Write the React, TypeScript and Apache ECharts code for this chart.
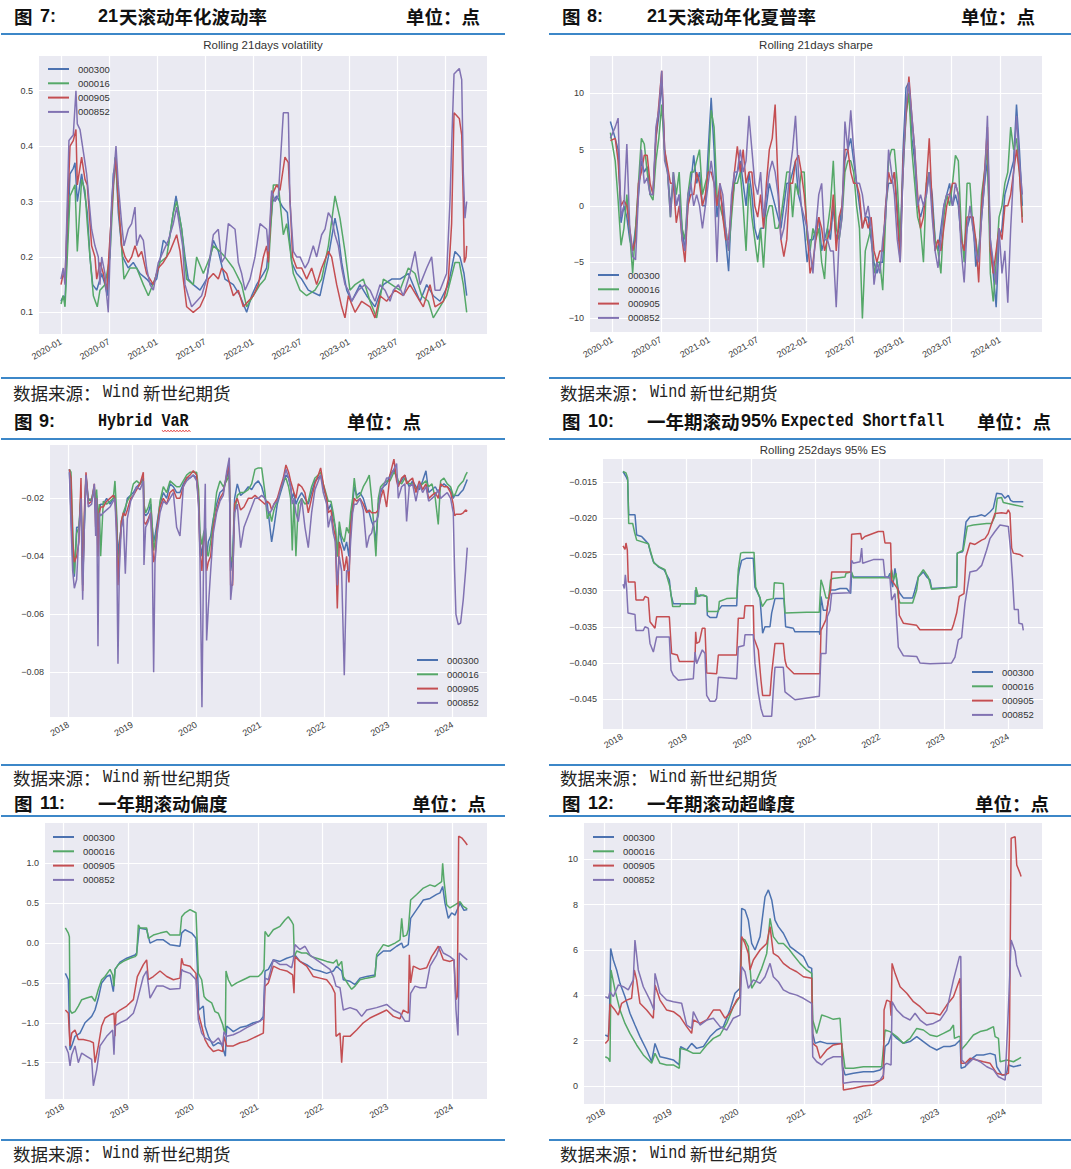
import React, { useEffect, useRef } from 'react';
import * as echarts from 'echarts';

type P = [number, number];

const W = 1071;
const H = 1169;

const SERIES_NAMES = ['000300', '000016', '000905', '000852'];
const SERIES_COLORS = ['#4C72B0', '#55A868', '#C44E52', '#8172B2'];

// ---------- 图7 Rolling 21days volatility (x = decimal year) ----------
const vol300: P[] = [[2020.00,0.12],[2020.024,0.13],[2020.042,0.12],[2020.094,0.35],[2020.128,0.36],[2020.146,0.37],[2020.170,0.30],[2020.215,0.35],[2020.250,0.31],[2020.274,0.28],[2020.302,0.20],[2020.330,0.15],[2020.372,0.14],[2020.424,0.17],[2020.458,0.15],[2020.483,0.13],[2020.545,0.35],[2020.573,0.37],[2020.597,0.28],[2020.642,0.20],[2020.701,0.18],[2020.753,0.19],[2020.823,0.17],[2020.892,0.16],[2020.944,0.15],[2020.997,0.16],[2021.066,0.23],[2021.118,0.22],[2021.170,0.28],[2021.198,0.31],[2021.257,0.25],[2021.292,0.20],[2021.326,0.16],[2021.378,0.15],[2021.448,0.14],[2021.517,0.16],[2021.587,0.23],[2021.639,0.21],[2021.708,0.16],[2021.795,0.15],[2021.865,0.13],[2021.934,0.10],[2021.986,0.13],[2022.038,0.15],[2022.108,0.17],[2022.142,0.18],[2022.205,0.30],[2022.247,0.31],[2022.309,0.29],[2022.358,0.28],[2022.403,0.19],[2022.455,0.17],[2022.507,0.16],[2022.576,0.14],[2022.698,0.13],[2022.785,0.20],[2022.854,0.27],[2022.889,0.24],[2022.924,0.19],[2022.976,0.14],[2023.028,0.12],[2023.115,0.15],[2023.184,0.13],[2023.271,0.11],[2023.358,0.15],[2023.444,0.16],[2023.531,0.16],[2023.618,0.17],[2023.740,0.12],[2023.809,0.15],[2023.878,0.13],[2023.948,0.12],[2024.035,0.15],[2024.104,0.21],[2024.156,0.20],[2024.198,0.17],[2024.226,0.13]];
const vol016: P[] = [[2020.00,0.115],[2020.024,0.13],[2020.042,0.11],[2020.094,0.31],[2020.146,0.33],[2020.170,0.21],[2020.215,0.34],[2020.250,0.32],[2020.274,0.26],[2020.302,0.20],[2020.337,0.13],[2020.378,0.11],[2020.406,0.14],[2020.458,0.15],[2020.510,0.20],[2020.563,0.38],[2020.597,0.30],[2020.656,0.16],[2020.719,0.18],[2020.788,0.18],[2020.858,0.15],[2020.910,0.13],[2020.979,0.16],[2021.031,0.19],[2021.101,0.20],[2021.170,0.28],[2021.205,0.30],[2021.257,0.25],[2021.309,0.16],[2021.378,0.15],[2021.413,0.20],[2021.483,0.17],[2021.552,0.20],[2021.587,0.22],[2021.656,0.21],[2021.708,0.20],[2021.795,0.18],[2021.882,0.15],[2021.934,0.11],[2022.003,0.13],[2022.073,0.15],[2022.125,0.16],[2022.160,0.18],[2022.212,0.33],[2022.264,0.33],[2022.316,0.24],[2022.351,0.26],[2022.420,0.17],[2022.490,0.14],[2022.559,0.13],[2022.646,0.14],[2022.715,0.16],[2022.785,0.22],[2022.854,0.31],[2022.906,0.27],[2022.958,0.21],[2023.010,0.14],[2023.063,0.15],[2023.149,0.16],[2023.219,0.12],[2023.288,0.09],[2023.358,0.16],[2023.444,0.15],[2023.531,0.14],[2023.618,0.18],[2023.688,0.17],[2023.757,0.13],[2023.826,0.12],[2023.878,0.09],[2023.948,0.11],[2024.017,0.13],[2024.104,0.19],[2024.149,0.19],[2024.191,0.15],[2024.226,0.10]];
const vol905: P[] = [[2020.00,0.15],[2020.024,0.17],[2020.042,0.16],[2020.094,0.40],[2020.128,0.41],[2020.156,0.43],[2020.170,0.33],[2020.215,0.38],[2020.250,0.34],[2020.274,0.33],[2020.319,0.22],[2020.354,0.20],[2020.372,0.16],[2020.406,0.19],[2020.441,0.17],[2020.476,0.14],[2020.545,0.33],[2020.573,0.38],[2020.597,0.30],[2020.632,0.22],[2020.667,0.20],[2020.701,0.19],[2020.736,0.20],[2020.771,0.22],[2020.806,0.20],[2020.840,0.21],[2020.892,0.17],[2020.927,0.16],[2020.962,0.15],[2021.014,0.18],[2021.066,0.19],[2021.135,0.21],[2021.205,0.24],[2021.240,0.21],[2021.274,0.16],[2021.309,0.11],[2021.378,0.10],[2021.448,0.11],[2021.500,0.13],[2021.535,0.16],[2021.587,0.17],[2021.639,0.16],[2021.674,0.18],[2021.726,0.17],[2021.795,0.13],[2021.847,0.14],[2021.899,0.11],[2021.951,0.12],[2022.003,0.13],[2022.056,0.15],[2022.108,0.20],[2022.142,0.22],[2022.160,0.19],[2022.194,0.31],[2022.247,0.33],[2022.281,0.32],[2022.333,0.38],[2022.368,0.37],[2022.413,0.20],[2022.455,0.18],[2022.507,0.18],[2022.559,0.16],[2022.611,0.18],[2022.663,0.15],[2022.715,0.18],[2022.785,0.21],[2022.819,0.20],[2022.872,0.15],[2022.924,0.11],[2022.958,0.09],[2022.993,0.13],[2023.063,0.10],[2023.132,0.12],[2023.219,0.11],[2023.271,0.09],[2023.323,0.13],[2023.392,0.12],[2023.479,0.14],[2023.566,0.13],[2023.635,0.15],[2023.774,0.11],[2023.844,0.15],[2023.896,0.11],[2023.983,0.12],[2024.035,0.16],[2024.069,0.26],[2024.094,0.46],[2024.149,0.45],[2024.174,0.42],[2024.191,0.30],[2024.201,0.19],[2024.219,0.20],[2024.226,0.22]];
const vol852: P[] = [[2020.00,0.16],[2020.024,0.18],[2020.042,0.15],[2020.083,0.41],[2020.128,0.42],[2020.156,0.50],[2020.170,0.44],[2020.198,0.43],[2020.250,0.37],[2020.267,0.35],[2020.319,0.25],[2020.354,0.22],[2020.389,0.20],[2020.406,0.15],[2020.424,0.20],[2020.458,0.17],[2020.476,0.13],[2020.493,0.10],[2020.528,0.30],[2020.573,0.40],[2020.597,0.33],[2020.632,0.26],[2020.656,0.22],[2020.701,0.25],[2020.736,0.26],[2020.771,0.29],[2020.788,0.22],[2020.823,0.24],[2020.858,0.23],[2020.892,0.18],[2020.927,0.15],[2020.962,0.14],[2021.014,0.19],[2021.066,0.21],[2021.118,0.23],[2021.170,0.26],[2021.205,0.29],[2021.240,0.25],[2021.267,0.22],[2021.292,0.15],[2021.326,0.13],[2021.361,0.11],[2021.413,0.12],[2021.465,0.13],[2021.517,0.16],[2021.552,0.20],[2021.587,0.24],[2021.639,0.25],[2021.674,0.19],[2021.708,0.20],[2021.743,0.26],[2021.813,0.25],[2021.847,0.19],[2021.882,0.17],[2021.917,0.14],[2021.969,0.16],[2022.021,0.20],[2022.073,0.26],[2022.142,0.25],[2022.160,0.21],[2022.194,0.32],[2022.229,0.30],[2022.264,0.31],[2022.316,0.46],[2022.368,0.46],[2022.385,0.30],[2022.420,0.21],[2022.455,0.20],[2022.490,0.20],[2022.542,0.18],[2022.576,0.19],[2022.628,0.22],[2022.663,0.20],[2022.715,0.24],[2022.750,0.25],[2022.785,0.28],[2022.819,0.27],[2022.854,0.24],[2022.889,0.22],[2022.924,0.18],[2022.958,0.15],[2022.993,0.14],[2023.028,0.12],[2023.097,0.14],[2023.167,0.15],[2023.219,0.14],[2023.271,0.12],[2023.323,0.15],[2023.375,0.14],[2023.427,0.12],[2023.462,0.14],[2023.514,0.15],[2023.566,0.13],[2023.635,0.17],[2023.688,0.21],[2023.740,0.15],[2023.809,0.18],[2023.861,0.20],[2023.896,0.14],[2023.948,0.14],[2024.017,0.17],[2024.052,0.30],[2024.069,0.40],[2024.094,0.53],[2024.149,0.54],[2024.174,0.52],[2024.191,0.35],[2024.208,0.27],[2024.226,0.30]];

// ---------- 图8 Rolling 21days sharpe ----------
const shpDates = [2019.98,2020.03,2020.06,2020.09,2020.12,2020.15,2020.18,2020.21,2020.24,2020.27,2020.30,2020.33,2020.36,2020.39,2020.42,2020.45,2020.48,2020.51,2020.54,2020.57,2020.60,2020.63,2020.66,2020.69,2020.72,2020.75,2020.78,2020.81,2020.84,2020.87,2020.90,2020.93,2020.96,2020.99,2021.02,2021.05,2021.08,2021.11,2021.14,2021.17,2021.20,2021.23,2021.26,2021.29,2021.32,2021.35,2021.38,2021.41,2021.44,2021.47,2021.50,2021.53,2021.56,2021.59,2021.62,2021.65,2021.68,2021.71,2021.74,2021.77,2021.80,2021.83,2021.86,2021.89,2021.92,2021.95,2021.98,2022.01,2022.04,2022.07,2022.10,2022.13,2022.16,2022.19,2022.22,2022.25,2022.28,2022.31,2022.34,2022.37,2022.40,2022.43,2022.46,2022.49,2022.52,2022.55,2022.58,2022.61,2022.64,2022.67,2022.70,2022.73,2022.76,2022.79,2022.82,2022.85,2022.88,2022.91,2022.94,2022.97,2023.00,2023.03,2023.06,2023.09,2023.12,2023.15,2023.18,2023.21,2023.24,2023.27,2023.30,2023.33,2023.36,2023.39,2023.42,2023.45,2023.48,2023.51,2023.54,2023.57,2023.60,2023.63,2023.66,2023.69,2023.72,2023.75,2023.78,2023.81,2023.84,2023.87,2023.90,2023.93,2023.96,2023.99,2024.02,2024.05,2024.08,2024.11,2024.14,2024.17,2024.20,2024.23];
const shp300 = [7.5,6,5,-1.5,0,-1,-3,-4,-2,1,4,3,3.5,1,1,6,8,11,5,3,0,2,0,1,-2,-4,0,2,4.5,2,3,0,0,5,9.6,5,-1,1,0,-3,-5.8,0,2,3,4,2,0,3,1,-2,-3,-2,-2,0,2,1,0,-1,-2,0,2,2,3,4,1,0,-2,-5,-3,-3,-2,-1,-4,-3,-2,-3,0,-3,-2,0,4,5,6,4,2,0,-2,-1,-1,-3,-5,-6,-5,-5,0,2,2,3,0,-4,5,10.5,11,6,4,0,-1,0,1,3,1,-3,-4,-2,0,1,2,0,1,0,-3,-4,-2,-1,-1,-5.4,-4,-1,2,4,-3,-6,-9,-3,-2,1,2,3,4,9,5,0];
const shp016 = [6.5,4,0.5,-3.5,-2,1,-2.5,-6,-2,2,6,5.5,3,1,0.5,4,6,9,4.5,3,-1,3,1,3,-2,-3,1,3,3,4,5,1,2,3,8.5,7,1,0,-1,-2,-4,-1,2,2,3,0,-4,2,-1,-3,-5,-2,-5.5,-1,0,0,-2,-2,-1,1,3,3,-1,2,1,3,3,-3,-4,-2,-3,-2,-5,-6.5,-2,0,4,-2,-3,-1,3,4,4,3,0,-2,-10,-4,-3,-2,-6,-5,-5,-7.5,-1,4,5,5,2,-3,3,8,10,5,2,-1,-2,-5,2,3,0,-3,-4,-6,-1,1,0,2,4.5,4,-2,-5,2,2,-2,-3,-5,1,3,5,-6,-8.5,-5,-1,0,2,3,7,5,6,3,-1];
const shp905 = [5.8,6,4,0,0.5,0,-2,-4,-3,2,3,4.5,4.5,2,1,6,9,12,5,3.5,2,2,-1.5,0,-3,-5,0,1,1,3,2,0,1,3,3,2,0,2,-1,-3,-3,0,3,5.3,3,5,2,3,3,0,-1,1,-2,2,5,6,9,2,-3,-4.5,-3,2,2,4,4.5,3,1,-2,-6,-5,-3,-1,-2,-4,-3,-2,1,-4,-1,0,5,5,3,2,2,1,-2,-1,-2,-1,-4,-5,-4,-4,0,3,2,3,-1,-5,4,8,11.5,8,5,1,-2,-1,2,6,0,-4,-3,-4,-2,0,1,2,2,1,-3,-4,-1,-1,-1,-3,-6.8,0,3,7,-4,-6,-4,-2,-3,0,0,1,3,5,3,-1.5];
const shp852 = [6,7,7.8,-1,0,5.5,-2,-4.5,-4.8,1,5,2,2.5,1,1,7,8.5,12,4,3,-1,3,0,1,-3,-4,1,2,0,1,0,-2,0,2,4,2,-5,2,1,-2,-4,1,3,3,5,3,4,8,5,2,1,3,-1,1,3,4,3,1,-3,-2,0,3,5,8,3,0,-1,-2,-4,-6,-2,1,2,-3,-3,-4,-4,-9,-3,-1,7.5,5,8.5,5,2,2,1,-1,0,-2,-7,-5,-6,-3,-1,5,3,1,-3,-5,3,9,11,8,5,0,1,0,1,3,-1,-4,-5.5,-3,0,1,1,0,2,1,-4,-6.8,-2,0,-2,-4,-5,-1,2,8,-3,-5,-7,-2,-6,-4,-8.6,-2,3,8,4,1];

// ---------- 图9 Hybrid VaR ----------
const varDates = [2018.016,2018.042,2018.068,2018.094,2018.130,2018.166,2018.198,2018.224,2018.250,2018.276,2018.312,2018.364,2018.406,2018.427,2018.442,2018.463,2018.484,2018.505,2018.546,2018.598,2018.650,2018.702,2018.728,2018.754,2018.775,2018.796,2018.827,2018.858,2018.890,2018.921,2018.973,2019.015,2019.067,2019.119,2019.171,2019.181,2019.207,2019.249,2019.285,2019.311,2019.332,2019.353,2019.389,2019.431,2019.483,2019.535,2019.587,2019.639,2019.691,2019.743,2019.795,2019.847,2019.899,2019.951,2020.003,2020.034,2020.055,2020.086,2020.112,2020.138,2020.159,2020.185,2020.222,2020.263,2020.315,2020.367,2020.419,2020.471,2020.513,2020.534,2020.565,2020.596,2020.638,2020.690,2020.742,2020.810,2020.862,2020.914,2020.966,2021.018,2021.070,2021.106,2021.148,2021.174,2021.210,2021.262,2021.314,2021.356,2021.397,2021.439,2021.470,2021.496,2021.522,2021.553,2021.590,2021.642,2021.694,2021.746,2021.798,2021.850,2021.902,2021.939,2021.980,2022.032,2022.058,2022.100,2022.136,2022.168,2022.199,2022.230,2022.266,2022.308,2022.344,2022.381,2022.407,2022.438,2022.464,2022.501,2022.553,2022.605,2022.657,2022.698,2022.735,2022.771,2022.802,2022.839,2022.875,2022.917,2022.969,2023.021,2023.083,2023.125,2023.151,2023.203,2023.255,2023.281,2023.322,2023.374,2023.427,2023.479,2023.531,2023.583,2023.625,2023.677,2023.729,2023.775,2023.812,2023.864,2023.916,2023.968,2024.009,2024.030,2024.051,2024.087,2024.124,2024.165,2024.202,2024.228];
const var300 = [-0.010,-0.025,-0.040,-0.047,-0.030,-0.030,-0.020,-0.050,-0.030,-0.012,-0.020,-0.021,-0.017,-0.025,-0.019,-0.030,-0.024,-0.022,-0.022,-0.020,-0.022,-0.020,-0.019,-0.027,-0.040,-0.035,-0.030,-0.026,-0.024,-0.020,-0.019,-0.018,-0.016,-0.015,-0.013,-0.025,-0.026,-0.025,-0.022,-0.030,-0.035,-0.033,-0.028,-0.022,-0.018,-0.020,-0.015,-0.016,-0.018,-0.018,-0.015,-0.013,-0.013,-0.012,-0.013,-0.020,-0.035,-0.040,-0.033,-0.030,-0.040,-0.035,-0.033,-0.027,-0.022,-0.018,-0.017,-0.013,-0.010,-0.045,-0.040,-0.020,-0.015,-0.019,-0.018,-0.016,-0.017,-0.015,-0.014,-0.016,-0.020,-0.022,-0.030,-0.035,-0.030,-0.022,-0.018,-0.015,-0.012,-0.013,-0.016,-0.020,-0.018,-0.022,-0.020,-0.018,-0.020,-0.022,-0.018,-0.014,-0.013,-0.012,-0.016,-0.020,-0.024,-0.022,-0.027,-0.030,-0.040,-0.030,-0.035,-0.038,-0.035,-0.040,-0.028,-0.022,-0.016,-0.019,-0.018,-0.020,-0.024,-0.025,-0.028,-0.030,-0.035,-0.022,-0.018,-0.016,-0.015,-0.012,-0.010,-0.013,-0.015,-0.014,-0.012,-0.014,-0.016,-0.014,-0.016,-0.017,-0.014,-0.0105,-0.018,-0.017,-0.016,-0.018,-0.016,-0.015,-0.016,-0.017,-0.020,-0.019,-0.019,-0.019,-0.018,-0.017,-0.015,-0.0135];
const var016 = [-0.010,-0.011,-0.030,-0.046,-0.032,-0.030,-0.018,-0.045,-0.028,-0.013,-0.021,-0.020,-0.016,-0.022,-0.017,-0.028,-0.022,-0.040,-0.021,-0.022,-0.021,-0.020,-0.014,-0.025,-0.045,-0.040,-0.028,-0.025,-0.023,-0.021,-0.019,-0.015,-0.014,-0.015,-0.014,-0.022,-0.025,-0.023,-0.020,-0.030,-0.038,-0.035,-0.030,-0.021,-0.016,-0.018,-0.014,-0.015,-0.016,-0.016,-0.014,-0.012,-0.011,-0.011,-0.011,-0.017,-0.032,-0.036,-0.032,-0.030,-0.038,-0.040,-0.035,-0.028,-0.018,-0.014,-0.016,-0.014,-0.012,-0.040,-0.042,-0.025,-0.019,-0.018,-0.018,-0.017,-0.015,-0.010,-0.0095,-0.0095,-0.018,-0.027,-0.025,-0.028,-0.024,-0.021,-0.017,-0.014,-0.013,-0.016,-0.020,-0.038,-0.020,-0.040,-0.022,-0.020,-0.022,-0.021,-0.016,-0.013,-0.012,-0.011,-0.015,-0.019,-0.021,-0.021,-0.025,-0.030,-0.040,-0.028,-0.033,-0.035,-0.030,-0.032,-0.025,-0.020,-0.013,-0.020,-0.019,-0.016,-0.014,-0.012,-0.020,-0.030,-0.040,-0.020,-0.016,-0.015,-0.014,-0.014,-0.011,-0.012,-0.014,-0.015,-0.013,-0.014,-0.015,-0.015,-0.017,-0.016,-0.015,-0.014,-0.016,-0.015,-0.020,-0.029,-0.014,-0.013,-0.015,-0.016,-0.019,-0.019,-0.018,-0.016,-0.015,-0.014,-0.012,-0.011];
const var905 = [-0.010,-0.013,-0.035,-0.042,-0.040,-0.035,-0.013,-0.052,-0.025,-0.011,-0.022,-0.021,-0.015,-0.030,-0.020,-0.040,-0.025,-0.023,-0.023,-0.021,-0.020,-0.019,-0.020,-0.030,-0.050,-0.040,-0.028,-0.025,-0.026,-0.024,-0.020,-0.019,-0.017,-0.015,-0.011,-0.028,-0.029,-0.027,-0.025,-0.035,-0.042,-0.040,-0.030,-0.023,-0.020,-0.022,-0.018,-0.017,-0.020,-0.020,-0.016,-0.013,-0.012,-0.0105,-0.012,-0.022,-0.038,-0.045,-0.035,-0.032,-0.045,-0.042,-0.040,-0.030,-0.024,-0.020,-0.018,-0.012,-0.008,-0.050,-0.050,-0.022,-0.020,-0.024,-0.023,-0.020,-0.020,-0.019,-0.020,-0.021,-0.022,-0.021,-0.022,-0.024,-0.022,-0.020,-0.016,-0.013,-0.0085,-0.011,-0.014,-0.016,-0.018,-0.020,-0.015,-0.016,-0.018,-0.025,-0.020,-0.015,-0.012,-0.0095,-0.015,-0.020,-0.025,-0.024,-0.030,-0.033,-0.058,-0.035,-0.038,-0.045,-0.040,-0.049,-0.030,-0.024,-0.020,-0.021,-0.020,-0.022,-0.025,-0.024,-0.025,-0.025,-0.025,-0.024,-0.020,-0.017,-0.023,-0.012,-0.0065,-0.014,-0.016,-0.013,-0.012,-0.015,-0.014,-0.013,-0.018,-0.014,-0.017,-0.015,-0.020,-0.019,-0.018,-0.020,-0.015,-0.016,-0.016,-0.018,-0.022,-0.026,-0.0255,-0.0255,-0.0255,-0.025,-0.024,-0.0245];
const var852 = [-0.011,-0.029,-0.045,-0.051,-0.048,-0.032,-0.020,-0.055,-0.030,-0.012,-0.023,-0.022,-0.015,-0.033,-0.020,-0.071,-0.025,-0.026,-0.025,-0.024,-0.023,-0.021,-0.020,-0.035,-0.077,-0.045,-0.030,-0.027,-0.046,-0.027,-0.021,-0.019,-0.016,-0.017,-0.014,-0.043,-0.030,-0.028,-0.025,-0.040,-0.080,-0.042,-0.032,-0.025,-0.021,-0.022,-0.020,-0.018,-0.030,-0.033,-0.016,-0.014,-0.013,-0.012,-0.014,-0.023,-0.040,-0.092,-0.040,-0.015,-0.069,-0.058,-0.045,-0.032,-0.025,-0.021,-0.019,-0.011,-0.006,-0.055,-0.048,-0.025,-0.022,-0.037,-0.030,-0.026,-0.023,-0.020,-0.020,-0.019,-0.020,-0.024,-0.025,-0.024,-0.022,-0.021,-0.017,-0.014,-0.010,-0.013,-0.016,-0.022,-0.020,-0.025,-0.028,-0.020,-0.030,-0.037,-0.025,-0.017,-0.014,-0.012,-0.018,-0.022,-0.030,-0.026,-0.032,-0.035,-0.050,-0.040,-0.045,-0.081,-0.045,-0.045,-0.035,-0.025,-0.022,-0.022,-0.020,-0.024,-0.037,-0.033,-0.032,-0.028,-0.028,-0.026,-0.017,-0.016,-0.013,-0.013,-0.010,-0.008,-0.020,-0.016,-0.015,-0.028,-0.016,-0.015,-0.021,-0.015,-0.018,-0.016,-0.021,-0.020,-0.019,-0.017,-0.020,-0.019,-0.018,-0.020,-0.025,-0.045,-0.060,-0.0635,-0.063,-0.055,-0.045,-0.037];

// ---------- 图10 Rolling 252days 95% ES ----------
const es300: P[] = [[2018.016,-0.0135],[2018.062,-0.0142],[2018.088,-0.0147],[2018.104,-0.0195],[2018.202,-0.0195],[2018.217,-0.0211],[2018.228,-0.0223],[2018.305,-0.0225],[2018.357,-0.0230],[2018.409,-0.0235],[2018.445,-0.0248],[2018.487,-0.0260],[2018.564,-0.0267],[2018.652,-0.0271],[2018.735,-0.0285],[2018.761,-0.0306],[2018.797,-0.0318],[2019.134,-0.0318],[2019.139,-0.0299],[2019.159,-0.0308],[2019.222,-0.0306],[2019.315,-0.0308],[2019.325,-0.0334],[2019.366,-0.0337],[2019.470,-0.0337],[2019.496,-0.0327],[2019.548,-0.0321],[2019.781,-0.0321],[2019.801,-0.0283],[2019.822,-0.0271],[2019.858,-0.0258],[2019.936,-0.0255],[2020.039,-0.0255],[2020.065,-0.0295],[2020.143,-0.0310],[2020.184,-0.0359],[2020.220,-0.0350],[2020.298,-0.0350],[2020.324,-0.0331],[2020.376,-0.0311],[2020.515,-0.0311],[2020.541,-0.0350],[2020.660,-0.0352],[2020.686,-0.0357],[2021.064,-0.0357],[2021.074,-0.0361],[2021.090,-0.0308],[2021.126,-0.0327],[2021.178,-0.0327],[2021.209,-0.0313],[2021.240,-0.0299],[2021.307,-0.0299],[2021.385,-0.0297],[2021.489,-0.0297],[2021.551,-0.0304],[2021.566,-0.0276],[2021.592,-0.0281],[2022.136,-0.0281],[2022.161,-0.0276],[2022.203,-0.0295],[2022.239,-0.0269],[2022.291,-0.0299],[2022.317,-0.0304],[2022.369,-0.0310],[2022.513,-0.0310],[2022.534,-0.0304],[2022.602,-0.0281],[2022.679,-0.0274],[2022.731,-0.0281],[2022.783,-0.0285],[2022.808,-0.0297],[2023.197,-0.0295],[2023.207,-0.0248],[2023.290,-0.0246],[2023.342,-0.0205],[2023.404,-0.0198],[2023.507,-0.0197],[2023.585,-0.0195],[2023.637,-0.0197],[2023.714,-0.0191],[2023.766,-0.0186],[2023.818,-0.0165],[2023.895,-0.0166],[2023.947,-0.0172],[2023.999,-0.0168],[2024.035,-0.0175],[2024.077,-0.0177],[2024.232,-0.0177]];
const es016: P[] = [[2018.016,-0.0135],[2018.062,-0.0137],[2018.088,-0.0144],[2018.104,-0.0207],[2018.166,-0.0207],[2018.192,-0.0218],[2018.228,-0.0230],[2018.409,-0.0235],[2018.461,-0.0251],[2018.497,-0.0262],[2018.580,-0.0267],[2018.668,-0.0271],[2018.745,-0.0295],[2018.787,-0.0322],[2018.901,-0.0322],[2018.911,-0.0318],[2019.144,-0.0318],[2019.149,-0.0295],[2019.185,-0.0308],[2019.263,-0.0306],[2019.315,-0.0308],[2019.330,-0.0329],[2019.496,-0.0329],[2019.511,-0.0315],[2019.625,-0.0311],[2019.781,-0.0310],[2019.806,-0.0271],[2019.843,-0.0248],[2019.884,-0.0247],[2020.050,-0.0247],[2020.076,-0.0295],[2020.143,-0.0310],[2020.179,-0.0322],[2020.246,-0.0313],[2020.350,-0.0311],[2020.365,-0.0289],[2020.505,-0.0290],[2020.531,-0.0331],[2020.867,-0.0330],[2021.064,-0.0330],[2021.090,-0.0285],[2021.126,-0.0295],[2021.168,-0.0310],[2021.209,-0.0310],[2021.240,-0.0285],[2021.271,-0.0283],[2021.463,-0.0281],[2021.478,-0.0276],[2021.566,-0.0274],[2021.592,-0.0282],[2022.161,-0.0282],[2022.187,-0.0271],[2022.213,-0.0285],[2022.255,-0.0276],[2022.291,-0.0310],[2022.317,-0.0317],[2022.513,-0.0317],[2022.576,-0.0299],[2022.602,-0.0281],[2022.679,-0.0271],[2022.757,-0.0281],[2022.808,-0.0298],[2023.197,-0.0295],[2023.207,-0.0248],[2023.300,-0.0244],[2023.362,-0.0211],[2023.455,-0.0209],[2023.559,-0.0208],[2023.662,-0.0207],[2023.740,-0.0207],[2023.792,-0.0197],[2023.828,-0.0172],[2023.895,-0.0171],[2023.921,-0.0178],[2024.077,-0.0181],[2024.232,-0.0184]];
const es905: P[] = [[2018.016,-0.0238],[2018.047,-0.0243],[2018.062,-0.0234],[2018.083,-0.0244],[2018.098,-0.0288],[2018.202,-0.0288],[2018.217,-0.0313],[2018.331,-0.0313],[2018.357,-0.0308],[2018.409,-0.0310],[2018.435,-0.0343],[2018.512,-0.0352],[2018.538,-0.0336],[2018.735,-0.0336],[2018.771,-0.0387],[2018.859,-0.0389],[2018.890,-0.0398],[2019.134,-0.0398],[2019.144,-0.0357],[2019.159,-0.0373],[2019.201,-0.0371],[2019.247,-0.0352],[2019.289,-0.0352],[2019.315,-0.0414],[2019.470,-0.0415],[2019.496,-0.0389],[2019.781,-0.0389],[2019.806,-0.0338],[2019.894,-0.0338],[2019.910,-0.0321],[2020.039,-0.0321],[2020.050,-0.0366],[2020.117,-0.0382],[2020.158,-0.0424],[2020.184,-0.0445],[2020.298,-0.0445],[2020.324,-0.0415],[2020.376,-0.0373],[2020.505,-0.0373],[2020.531,-0.0396],[2020.557,-0.0405],[2020.671,-0.0415],[2021.074,-0.0415],[2021.090,-0.0355],[2021.168,-0.0340],[2021.204,-0.0313],[2021.240,-0.0299],[2021.256,-0.0274],[2021.551,-0.0274],[2021.566,-0.0222],[2021.706,-0.0221],[2021.722,-0.0229],[2021.773,-0.0225],[2021.980,-0.0218],[2022.058,-0.0218],[2022.084,-0.0234],[2022.172,-0.0234],[2022.187,-0.0285],[2022.291,-0.0299],[2022.306,-0.0334],[2022.369,-0.0345],[2022.576,-0.0348],[2022.627,-0.0354],[2023.119,-0.0354],[2023.145,-0.0348],[2023.197,-0.0331],[2023.238,-0.0308],[2023.311,-0.0304],[2023.342,-0.0253],[2023.404,-0.0234],[2023.481,-0.0236],[2023.585,-0.0230],[2023.637,-0.0228],[2023.688,-0.0221],[2023.740,-0.0207],[2023.792,-0.0193],[2023.895,-0.0192],[2023.973,-0.0193],[2023.999,-0.0188],[2024.025,-0.0193],[2024.051,-0.0241],[2024.077,-0.0248],[2024.180,-0.0250],[2024.232,-0.0253]];
const es852: P[] = [[2018.016,-0.0291],[2018.036,-0.0297],[2018.052,-0.0278],[2018.072,-0.0297],[2018.093,-0.0331],[2018.202,-0.0333],[2018.217,-0.0355],[2018.331,-0.0355],[2018.357,-0.0350],[2018.409,-0.0352],[2018.435,-0.0373],[2018.487,-0.0385],[2018.538,-0.0364],[2018.735,-0.0364],[2018.761,-0.0410],[2018.797,-0.0417],[2018.875,-0.0424],[2019.108,-0.0422],[2019.134,-0.0385],[2019.159,-0.0401],[2019.247,-0.0382],[2019.289,-0.0387],[2019.315,-0.0445],[2019.366,-0.0453],[2019.444,-0.0453],[2019.470,-0.0449],[2019.496,-0.0420],[2019.781,-0.0422],[2019.806,-0.0378],[2019.894,-0.0376],[2019.910,-0.0361],[2020.039,-0.0361],[2020.065,-0.0401],[2020.117,-0.0442],[2020.158,-0.0463],[2020.195,-0.0474],[2020.324,-0.0474],[2020.350,-0.0438],[2020.376,-0.0406],[2020.505,-0.0406],[2020.531,-0.0440],[2020.686,-0.0451],[2021.064,-0.0446],[2021.090,-0.0387],[2021.168,-0.0387],[2021.188,-0.0336],[2021.230,-0.0327],[2021.256,-0.0304],[2021.540,-0.0303],[2021.566,-0.0258],[2021.592,-0.0262],[2021.696,-0.0260],[2021.722,-0.0241],[2021.737,-0.0262],[2021.903,-0.0257],[2022.058,-0.0257],[2022.084,-0.0281],[2022.161,-0.0282],[2022.187,-0.0313],[2022.239,-0.0304],[2022.291,-0.0378],[2022.369,-0.0390],[2022.576,-0.0391],[2022.627,-0.0400],[2022.783,-0.0401],[2023.119,-0.0400],[2023.171,-0.0392],[2023.223,-0.0368],[2023.274,-0.0365],[2023.326,-0.0318],[2023.404,-0.0274],[2023.507,-0.0272],[2023.585,-0.0265],[2023.662,-0.0244],[2023.714,-0.0228],[2023.792,-0.0218],[2023.870,-0.0209],[2023.999,-0.0211],[2024.035,-0.0244],[2024.066,-0.0285],[2024.092,-0.0326],[2024.154,-0.0326],[2024.164,-0.0345],[2024.216,-0.0346],[2024.232,-0.0355]];

// ---------- 图11 一年期滚动偏度 ----------
const sk300: P[] = [[2018.031,-0.38],[2018.077,-0.46],[2018.103,-1.34],[2018.129,-1.29],[2018.180,-1.17],[2018.257,-1.13],[2018.334,-1.0],[2018.437,-0.92],[2018.488,-0.84],[2018.540,-0.69],[2018.591,-0.50],[2018.668,-0.42],[2018.720,-0.40],[2018.771,-0.61],[2018.797,-0.33],[2018.874,-0.24],[2018.977,-0.19],[2019.105,-0.15],[2019.131,-0.125],[2019.172,0.19],[2019.285,0.17],[2019.337,0.0],[2019.440,0.04],[2019.542,0.04],[2019.645,-0.02],[2019.799,-0.04],[2019.825,0.125],[2019.877,0.167],[2019.979,0.125],[2020.046,0.06],[2020.067,-0.29],[2020.093,-0.84],[2020.159,-0.79],[2020.185,-1.04],[2020.237,-1.17],[2020.314,-1.29],[2020.391,-1.25],[2020.442,-1.27],[2020.499,-1.42],[2020.519,-1.04],[2020.622,-1.11],[2020.725,-1.06],[2020.828,-1.04],[2020.931,-1.0],[2021.033,-0.98],[2021.085,-0.92],[2021.111,-0.35],[2021.162,-0.33],[2021.239,-0.21],[2021.342,-0.23],[2021.445,-0.19],[2021.522,-0.17],[2021.573,-0.15],[2021.650,-0.23],[2021.753,-0.27],[2021.856,-0.33],[2021.959,-0.35],[2022.062,-0.38],[2022.165,-0.35],[2022.216,-0.29],[2022.293,-0.35],[2022.319,-0.46],[2022.422,-0.48],[2022.499,-0.52],[2022.576,-0.44],[2022.679,-0.42],[2022.807,-0.40],[2022.833,-0.17],[2022.936,-0.10],[2023.039,-0.10],[2023.141,-0.04],[2023.219,0.0],[2023.244,-0.06],[2023.321,-0.02],[2023.357,0.31],[2023.450,0.42],[2023.553,0.54],[2023.656,0.56],[2023.758,0.61],[2023.810,0.63],[2023.851,0.71],[2023.887,0.50],[2023.938,0.31],[2023.990,0.38],[2024.041,0.35],[2024.118,0.50],[2024.180,0.41],[2024.231,0.42]];
const sk016: P[] = [[2018.031,0.19],[2018.077,0.125],[2018.093,0.08],[2018.103,-0.84],[2018.129,-0.88],[2018.180,-0.86],[2018.231,-0.79],[2018.283,-0.71],[2018.360,-0.69],[2018.437,-0.67],[2018.488,-0.73],[2018.540,-0.58],[2018.591,-0.46],[2018.643,-0.42],[2018.720,-0.33],[2018.761,-0.40],[2018.781,-0.54],[2018.797,-0.33],[2018.848,-0.27],[2018.925,-0.23],[2019.028,-0.19],[2019.105,-0.17],[2019.131,-0.15],[2019.157,0.23],[2019.183,0.19],[2019.285,0.19],[2019.311,0.06],[2019.388,0.10],[2019.491,0.125],[2019.594,0.146],[2019.645,0.10],[2019.799,0.10],[2019.825,0.33],[2019.877,0.38],[2019.954,0.42],[2020.046,0.38],[2020.067,-0.04],[2020.082,-0.38],[2020.134,-0.46],[2020.170,-0.67],[2020.211,-0.71],[2020.288,-0.75],[2020.339,-0.86],[2020.391,-0.88],[2020.458,-1.02],[2020.478,-1.09],[2020.499,-1.13],[2020.509,-0.35],[2020.545,-0.46],[2020.596,-0.54],[2020.674,-0.50],[2020.776,-0.46],[2020.879,-0.42],[2021.008,-0.42],[2021.059,-0.38],[2021.095,-0.33],[2021.111,0.146],[2021.162,0.08],[2021.239,0.167],[2021.342,0.21],[2021.419,0.29],[2021.470,0.33],[2021.522,0.27],[2021.548,0.23],[2021.563,-0.17],[2021.599,-0.10],[2021.676,-0.125],[2021.753,-0.125],[2021.830,-0.17],[2021.907,-0.19],[2021.985,-0.21],[2022.062,-0.23],[2022.165,-0.25],[2022.216,-0.21],[2022.242,-0.29],[2022.293,-0.23],[2022.319,-0.42],[2022.396,-0.52],[2022.447,-0.58],[2022.499,-0.54],[2022.576,-0.46],[2022.679,-0.44],[2022.807,-0.42],[2022.833,-0.146],[2022.936,-0.02],[2023.013,-0.04],[2023.116,0.0],[2023.193,0.04],[2023.219,0.31],[2023.244,0.08],[2023.296,0.10],[2023.321,0.167],[2023.337,0.33],[2023.357,0.54],[2023.450,0.61],[2023.553,0.69],[2023.656,0.73],[2023.733,0.71],[2023.799,0.75],[2023.835,0.77],[2023.851,1.0],[2023.871,0.79],[2023.913,0.48],[2023.964,0.44],[2024.041,0.48],[2024.118,0.52],[2024.170,0.46],[2024.231,0.43]];
const sk905: P[] = [[2018.031,-0.84],[2018.077,-0.88],[2018.103,-1.29],[2018.129,-1.13],[2018.180,-1.09],[2018.231,-1.21],[2018.308,-1.21],[2018.411,-1.23],[2018.463,-1.25],[2018.488,-1.50],[2018.540,-1.29],[2018.591,-1.04],[2018.643,-0.94],[2018.720,-0.90],[2018.781,-0.88],[2018.797,-1.17],[2018.812,-0.88],[2018.874,-0.84],[2018.977,-0.79],[2019.080,-0.71],[2019.141,-0.42],[2019.234,-0.27],[2019.285,-0.21],[2019.311,-0.46],[2019.388,-0.42],[2019.491,-0.35],[2019.594,-0.42],[2019.697,-0.46],[2019.799,-0.44],[2019.825,-0.19],[2019.851,-0.27],[2019.954,-0.29],[2020.046,-0.38],[2020.082,-0.88],[2020.134,-1.04],[2020.185,-1.21],[2020.237,-1.29],[2020.314,-1.36],[2020.391,-1.34],[2020.458,-1.36],[2020.478,-1.17],[2020.519,-1.29],[2020.622,-1.29],[2020.725,-1.25],[2020.828,-1.23],[2020.931,-1.19],[2021.085,-1.13],[2021.111,-0.54],[2021.162,-0.50],[2021.239,-0.29],[2021.342,-0.33],[2021.445,-0.35],[2021.537,-0.40],[2021.558,-0.63],[2021.573,-0.17],[2021.650,-0.23],[2021.753,-0.29],[2021.856,-0.42],[2021.959,-0.44],[2022.062,-0.46],[2022.139,-0.54],[2022.190,-0.63],[2022.206,-1.17],[2022.267,-1.13],[2022.293,-1.50],[2022.319,-1.17],[2022.422,-1.17],[2022.524,-1.09],[2022.627,-1.0],[2022.730,-0.94],[2022.884,-0.88],[2022.987,-0.84],[2023.090,-0.92],[2023.193,-0.95],[2023.244,-0.84],[2023.321,-0.88],[2023.337,-0.146],[2023.357,-0.50],[2023.398,-0.29],[2023.501,-0.33],[2023.604,-0.31],[2023.681,-0.17],[2023.784,-0.04],[2023.861,-0.21],[2023.964,-0.23],[2024.026,-0.21],[2024.057,-0.71],[2024.077,-0.67],[2024.098,1.34],[2024.144,1.32],[2024.195,1.27],[2024.231,1.23]];
const sk852: P[] = [[2018.031,-1.29],[2018.077,-1.38],[2018.103,-1.54],[2018.129,-1.40],[2018.180,-1.29],[2018.231,-1.50],[2018.283,-1.38],[2018.360,-1.42],[2018.437,-1.46],[2018.463,-1.79],[2018.514,-1.59],[2018.566,-1.29],[2018.668,-1.17],[2018.761,-1.09],[2018.781,-1.40],[2018.797,-1.04],[2018.874,-1.0],[2018.977,-0.96],[2019.080,-0.88],[2019.131,-0.75],[2019.234,-0.42],[2019.285,-0.35],[2019.337,-0.69],[2019.440,-0.54],[2019.542,-0.54],[2019.645,-0.58],[2019.799,-0.57],[2019.825,-0.33],[2019.851,-0.35],[2019.954,-0.38],[2020.046,-0.46],[2020.082,-0.96],[2020.134,-1.13],[2020.185,-1.19],[2020.237,-1.21],[2020.314,-1.25],[2020.391,-1.19],[2020.458,-1.29],[2020.478,-1.11],[2020.519,-1.17],[2020.622,-1.15],[2020.725,-1.11],[2020.828,-1.06],[2020.931,-1.02],[2021.085,-0.95],[2021.111,-0.44],[2021.162,-0.46],[2021.239,-0.21],[2021.342,-0.27],[2021.445,-0.27],[2021.522,-0.31],[2021.548,-0.21],[2021.573,-0.02],[2021.650,-0.08],[2021.728,-0.04],[2021.805,-0.15],[2021.907,-0.21],[2022.010,-0.27],[2022.113,-0.33],[2022.165,-0.42],[2022.206,-0.54],[2022.267,-0.56],[2022.319,-0.84],[2022.422,-0.81],[2022.524,-0.84],[2022.602,-0.92],[2022.679,-0.84],[2022.833,-0.81],[2022.987,-0.77],[2023.090,-0.84],[2023.193,-0.88],[2023.270,-0.98],[2023.337,-0.98],[2023.357,-0.63],[2023.424,-0.54],[2023.501,-0.56],[2023.594,-0.56],[2023.656,-0.29],[2023.758,-0.15],[2023.810,-0.04],[2023.861,-0.125],[2023.964,-0.17],[2024.026,-0.21],[2024.057,-0.84],[2024.087,-1.16],[2024.108,-0.125],[2024.170,-0.17],[2024.231,-0.21]];

// ---------- 图12 一年期滚动超峰度 ----------
const ku300: P[] = [[2018.015,2.25],[2018.060,2.18],[2018.075,2.6],[2018.095,6.07],[2018.135,5.56],[2018.185,5.12],[2018.235,4.53],[2018.310,3.94],[2018.384,3.21],[2018.459,2.69],[2018.534,2.18],[2018.634,1.59],[2018.709,1.07],[2018.759,1.88],[2018.834,1.29],[2018.934,1.22],[2019.034,1.15],[2019.123,0.93],[2019.143,1.74],[2019.233,1.59],[2019.308,1.88],[2019.383,1.66],[2019.483,1.74],[2019.583,2.18],[2019.683,2.47],[2019.783,2.62],[2019.882,3.35],[2019.957,4.09],[2020.032,4.31],[2020.057,7.84],[2020.107,7.76],[2020.157,7.32],[2020.207,6.29],[2020.257,6.0],[2020.332,6.59],[2020.407,8.35],[2020.457,8.65],[2020.507,8.21],[2020.556,7.32],[2020.606,7.03],[2020.681,6.74],[2020.781,6.15],[2020.881,5.93],[2020.981,5.71],[2021.056,5.26],[2021.106,5.19],[2021.121,2.32],[2021.156,1.88],[2021.231,1.96],[2021.330,1.88],[2021.430,1.88],[2021.555,1.88],[2021.570,0.85],[2021.605,0.49],[2021.730,0.56],[2021.880,0.63],[2022.029,0.63],[2022.129,0.71],[2022.179,0.85],[2022.204,1.74],[2022.254,1.88],[2022.304,2.32],[2022.379,2.10],[2022.479,1.88],[2022.579,1.96],[2022.678,2.18],[2022.778,1.96],[2022.878,1.74],[2022.978,1.59],[2023.078,1.74],[2023.178,1.74],[2023.253,1.81],[2023.328,2.03],[2023.343,0.78],[2023.403,0.85],[2023.477,1.15],[2023.577,1.37],[2023.677,1.37],[2023.777,1.44],[2023.852,1.37],[2023.877,0.85],[2023.952,0.49],[2024.017,0.49],[2024.052,0.93],[2024.127,0.85],[2024.241,0.93]];
const ku016: P[] = [[2018.015,1.29],[2018.060,1.22],[2018.085,1.07],[2018.100,5.12],[2018.160,4.24],[2018.235,3.35],[2018.310,2.76],[2018.384,2.32],[2018.484,1.81],[2018.584,1.37],[2018.709,1.0],[2018.759,1.44],[2018.834,1.0],[2018.934,0.93],[2019.034,0.93],[2019.123,0.78],[2019.133,1.66],[2019.233,1.59],[2019.333,1.44],[2019.433,1.44],[2019.533,1.81],[2019.633,2.10],[2019.733,2.25],[2019.832,2.76],[2019.932,3.5],[2020.032,3.94],[2020.057,6.51],[2020.107,6.44],[2020.157,6.15],[2020.207,4.31],[2020.282,4.68],[2020.357,5.19],[2020.432,5.85],[2020.482,7.40],[2020.531,6.59],[2020.606,6.29],[2020.681,6.29],[2020.756,6.07],[2020.831,5.78],[2020.931,5.41],[2021.031,5.12],[2021.106,4.97],[2021.121,2.91],[2021.181,2.32],[2021.255,3.13],[2021.330,3.06],[2021.430,2.94],[2021.530,2.99],[2021.555,1.88],[2021.605,0.78],[2021.730,0.78],[2021.880,0.85],[2022.029,0.85],[2022.154,0.85],[2022.204,2.47],[2022.279,2.40],[2022.379,2.18],[2022.479,1.88],[2022.579,2.10],[2022.678,2.54],[2022.778,2.47],[2022.878,2.25],[2022.978,2.18],[2023.078,2.32],[2023.178,2.47],[2023.228,2.69],[2023.243,2.10],[2023.303,2.18],[2023.328,2.18],[2023.343,1.59],[2023.428,1.88],[2023.527,2.25],[2023.627,2.40],[2023.727,2.47],[2023.827,2.62],[2023.852,2.18],[2023.902,2.10],[2023.927,1.07],[2024.027,1.15],[2024.127,1.07],[2024.241,1.26]];
const ku905: P[] = [[2018.015,1.88],[2018.060,2.03],[2018.085,3.62],[2018.160,3.35],[2018.210,3.13],[2018.260,3.65],[2018.335,3.79],[2018.409,3.87],[2018.449,5.12],[2018.484,4.68],[2018.534,3.65],[2018.634,3.35],[2018.734,2.99],[2018.759,4.46],[2018.834,3.79],[2018.934,3.35],[2019.034,3.28],[2019.133,3.06],[2019.233,2.62],[2019.308,2.32],[2019.333,2.91],[2019.433,2.76],[2019.533,2.91],[2019.633,3.35],[2019.733,3.35],[2019.807,2.99],[2019.882,3.21],[2019.982,3.79],[2020.032,3.94],[2020.057,6.59],[2020.107,6.29],[2020.157,5.85],[2020.182,5.12],[2020.232,5.56],[2020.332,6.0],[2020.432,6.29],[2020.482,7.03],[2020.531,5.85],[2020.606,5.71],[2020.681,5.41],[2020.781,5.19],[2020.881,5.04],[2020.981,4.82],[2021.106,4.75],[2021.121,1.88],[2021.181,1.74],[2021.231,1.22],[2021.330,1.59],[2021.430,1.81],[2021.555,1.88],[2021.580,-0.18],[2021.730,-0.10],[2021.880,0.0],[2022.029,0.04],[2022.179,0.34],[2022.189,3.35],[2022.229,3.79],[2022.279,3.72],[2022.294,3.1],[2022.309,5.41],[2022.354,4.97],[2022.429,4.38],[2022.529,4.09],[2022.629,3.72],[2022.728,3.5],[2022.828,3.21],[2022.928,3.21],[2023.028,3.13],[2023.128,3.57],[2023.228,3.94],[2023.328,4.75],[2023.343,1.0],[2023.403,1.0],[2023.477,1.22],[2023.577,1.15],[2023.677,1.07],[2023.777,1.0],[2023.877,0.56],[2023.977,0.49],[2024.052,0.56],[2024.067,2.18],[2024.092,10.93],[2024.152,11.0],[2024.176,9.75],[2024.226,9.38],[2024.241,9.24]];
const ku852: P[] = [[2018.015,3.94],[2018.060,3.87],[2018.085,4.16],[2018.135,3.94],[2018.210,4.46],[2018.285,4.38],[2018.359,4.24],[2018.434,4.68],[2018.459,6.44],[2018.509,5.12],[2018.584,4.38],[2018.684,3.79],[2018.744,3.35],[2018.759,4.97],[2018.834,4.09],[2018.934,3.79],[2019.034,3.72],[2019.158,3.65],[2019.233,2.69],[2019.308,2.54],[2019.333,3.28],[2019.433,2.69],[2019.533,2.91],[2019.633,2.99],[2019.733,2.62],[2019.832,2.47],[2019.932,2.99],[2020.032,3.13],[2020.057,5.26],[2020.107,5.04],[2020.157,4.31],[2020.232,4.68],[2020.332,4.53],[2020.407,4.82],[2020.482,5.41],[2020.531,4.82],[2020.606,4.60],[2020.681,4.24],[2020.781,4.09],[2020.881,4.01],[2020.981,3.87],[2021.106,3.65],[2021.121,1.29],[2021.181,1.07],[2021.255,0.93],[2021.330,1.15],[2021.430,1.29],[2021.555,1.29],[2021.580,0.12],[2021.730,0.19],[2021.880,0.19],[2022.029,0.19],[2022.129,0.26],[2022.179,0.49],[2022.194,0.93],[2022.229,1.0],[2022.294,0.93],[2022.309,3.72],[2022.379,3.35],[2022.479,3.06],[2022.579,2.91],[2022.653,3.21],[2022.728,2.91],[2022.828,2.69],[2022.928,2.76],[2023.028,2.91],[2023.128,3.35],[2023.228,4.68],[2023.318,5.71],[2023.338,5.71],[2023.353,1.15],[2023.428,0.93],[2023.527,1.22],[2023.627,1.07],[2023.727,0.85],[2023.827,0.71],[2023.902,0.41],[2024.002,0.26],[2024.052,3.50],[2024.092,6.44],[2024.152,5.93],[2024.176,5.34],[2024.241,4.82]];

// ---------- ticks ----------
const halfYearTicks = [2020, 2020.5, 2021, 2021.5, 2022, 2022.5, 2023, 2023.5, 2024];
const yearTicks = [2018, 2019, 2020, 2021, 2022, 2023, 2024];
const volTicks = [0.1, 0.2, 0.3, 0.4, 0.5];
const shpTicks = [-10, -5, 0, 5, 10];
const varTicks = [-0.08, -0.06, -0.04, -0.02];
const esTicks = [-0.045, -0.04, -0.035, -0.03, -0.025, -0.02, -0.015];
const skTicks = [-1.5, -1, -0.5, 0, 0.5, 1];
const kuTicks = [0, 2, 4, 6, 8, 10];

const MINUS = '\u2212';
const fmtNum = (d: number) => (v: number) => (v < -1e-12 ? MINUS : '') + Math.abs(v).toFixed(d);
const fmtYM = (v: number) => {
  const y = Math.floor(v + 1e-6);
  const m = Math.round((v - y) * 12) + 1;
  return y + '-' + (m < 10 ? '0' + m : String(m));
};
const fmtYear = (v: number) => String(Math.round(v));

const pairs = (dates: number[], vals: number[]): P[] => dates.map((d, i) => [d, vals[i]]);

const FONT = '"Liberation Sans", Arial, sans-serif';

const panels = [
  { grid: { left: 39, top: 56, width: 448, height: 278 }, x: [2019.771, 2024.4375], y: [0.0609, 0.5626], xt: halfYearTicks, xf: fmtYM, yt: volTicks, yf: fmtNum(1), data: [vol300, vol016, vol905, vol852], legend: { left: 48, top: 64 } },
  { grid: { left: 590, top: 56, width: 452, height: 276 }, x: [2019.770, 2024.433], y: [-11.21, 13.32], xt: halfYearTicks, xf: fmtYM, yt: shpTicks, yf: fmtNum(0), data: [pairs(shpDates, shp300), pairs(shpDates, shp016), pairs(shpDates, shp905), pairs(shpDates, shp852)], legend: { left: 598, top: 270 } },
  { grid: { left: 50, top: 445, width: 437, height: 272 }, x: [2017.714, 2024.536], y: [-0.0954, -0.00161], xt: yearTicks, xf: fmtYear, yt: varTicks, yf: fmtNum(2), data: [pairs(varDates, var300), pairs(varDates, var016), pairs(varDates, var905), pairs(varDates, var852)], legend: { left: 417, top: 655 } },
  { grid: { left: 603, top: 459, width: 440, height: 270 }, x: [2017.705, 2024.538], y: [-0.04915, -0.01177], xt: yearTicks, xf: fmtYear, yt: esTicks, yf: fmtNum(3), data: [es300, es016, es905, es852], legend: { left: 972, top: 667 } },
  { grid: { left: 45, top: 823, width: 442, height: 276 }, x: [2017.717, 2024.535], y: [-1.956, 1.506], xt: yearTicks, xf: fmtYear, yt: skTicks, yf: fmtNum(1), data: [sk300, sk016, sk905, sk852], legend: { left: 53, top: 832 } },
  { grid: { left: 584, top: 823, width: 458, height: 281 }, x: [2017.696, 2024.554], y: [-0.794, 11.603], xt: yearTicks, xf: fmtYear, yt: kuTicks, yf: fmtNum(0), data: [ku300, ku016, ku905, ku852], legend: { left: 593, top: 832 } },
];

const BLUE = '#3C87C8';
const CJK_B = 'bold 18.5px "Noto Sans CJK SC"';
const CJK_N = 'normal 17.5px "Noto Sans CJK SC"';
const NUM_B = 'bold 18px "Liberation Sans", "Noto Sans CJK SC"';
const MONO_B = 'bold 18px "Liberation Mono", "Noto Sans CJK SC"';
const MONO_N = 'normal 18px "Liberation Mono", "Noto Sans CJK SC"';
const MONO_SCALE = 0.84;

function txt(x: number, y: number, text: string, font: string, fill = '#111', align = 'left', scaleX = 1) {
  return {
    type: 'text', x, y, scaleX, silent: true, z: 10,
    style: { text, font, fill, align, verticalAlign: 'middle', textAlign: align, textVerticalAlign: 'middle' },
  };
}
function hline(x1: number, x2: number, y: number) {
  return { type: 'line', silent: true, z: 10, shape: { x1, y1: y, x2, y2: y }, style: { stroke: BLUE, lineWidth: 2.2 } };
}

function buildGraphics() {
  const g: any[] = [];
  [34, 378, 439, 765, 816, 1140].forEach((y) => {
    g.push(hline(1, 505, y));
    g.push(hline(549, 1071, y));
  });
  const hdr = (y: number, figX: number, num: string, numX: number, parts: [string, number, string, number][], unitX: number) => {
    g.push(txt(figX, y, '图', CJK_B));
    g.push(txt(numX, y, num, NUM_B));
    parts.forEach(([t, x, f, s]) => g.push(txt(x, y, t, f, '#111', 'left', s)));
    g.push(txt(unitX, y, '单位：点', CJK_B));
  };
  hdr(16, 14, '7:', 40, [['21', 98, NUM_B, 1], ['天滚动年化波动率', 119, CJK_B, 1]], 406);
  hdr(16, 562, '8:', 587, [['21', 647, NUM_B, 1], ['天滚动年化夏普率', 668, CJK_B, 1]], 961);
  hdr(421, 14, '9:', 39, [['Hybrid VaR', 98, MONO_B, MONO_SCALE]], 347);
  hdr(421, 562, '10:', 588, [['一年期滚动', 647, CJK_B, 1], ['95%', 741, NUM_B, 1], ['Expected Shortfall', 781, MONO_B, MONO_SCALE]], 977);
  hdr(803, 14, '11:', 40, [['一年期滚动偏度', 98, CJK_B, 1]], 412);
  hdr(803, 562, '12:', 588, [['一年期滚动超峰度', 647, CJK_B, 1]], 975);
  // spell-check wavy underline under "VaR"
  const pts: number[][] = [];
  for (let i = 0; i <= 19; i++) pts.push([162 + i * 1.5, i % 2 === 0 ? 430 : 432]);
  g.push({ type: 'polyline', silent: true, z: 10, shape: { points: pts }, style: { stroke: '#E03A3A', lineWidth: 0.8, fill: null } });
  const ftr = (x: number, y: number) => {
    g.push(txt(x, y, '数据来源：', CJK_N, '#222'));
    g.push(txt(x + 90, y, 'Wind', MONO_N, '#222', 'left', MONO_SCALE));
    g.push(txt(x + 130, y, '新世纪期货', CJK_N, '#222'));
  };
  ftr(13, 392); ftr(560, 392);
  ftr(13, 777); ftr(560, 777);
  ftr(13, 1153); ftr(560, 1153);
  const TF = 'normal 11.5px "Liberation Sans", Arial, sans-serif';
  g.push(txt(263, 45, 'Rolling 21days volatility', TF, '#333', 'center'));
  g.push(txt(816, 45, 'Rolling 21days sharpe', TF, '#333', 'center'));
  g.push(txt(823, 450, 'Rolling 252days 95% ES', TF, '#333', 'center'));
  return g;
}

function buildOption() {
  const grid: any[] = [];
  const xAxis: any[] = [];
  const yAxis: any[] = [];
  const series: any[] = [];
  const legend: any[] = [];
  panels.forEach((p, i) => {
    grid.push({ ...p.grid, show: true, backgroundColor: '#EAEAF2', borderWidth: 0, containLabel: false, outerBoundsMode: 'none' });
    xAxis.push({
      type: 'value', gridIndex: i, min: p.x[0], max: p.x[1],
      axisLine: { show: false },
      axisTick: { show: false, customValues: p.xt },
      axisLabel: { customValues: p.xt, formatter: p.xf, rotate: 30, fontSize: 9, color: '#3a3a3a', margin: 7, fontFamily: FONT },
      splitLine: { show: true, lineStyle: { color: '#FFFFFF', width: 1.2 } },
    });
    yAxis.push({
      type: 'value', gridIndex: i, min: p.y[0], max: p.y[1],
      axisLine: { show: false },
      axisTick: { show: false, customValues: p.yt },
      axisLabel: { customValues: p.yt, formatter: p.yf, fontSize: 9, color: '#3a3a3a', margin: 6, fontFamily: FONT },
      splitLine: { show: true, lineStyle: { color: '#FFFFFF', width: 1.2 } },
    });
    p.data.forEach((d, k) => {
      series.push({
        type: 'line', name: SERIES_NAMES[k], xAxisIndex: i, yAxisIndex: i, data: d,
        symbol: 'none', showSymbol: false, silent: true, clip: true,
        lineStyle: { color: SERIES_COLORS[k], width: 1.5 },
        itemStyle: { color: SERIES_COLORS[k] },
      });
    });
    legend.push({
      data: SERIES_NAMES, orient: 'vertical', left: p.legend.left, top: p.legend.top,
      icon: 'rect', itemWidth: 21, itemHeight: 2, itemGap: 4.3, selectedMode: false, padding: 0,
      textStyle: { fontSize: 9.5, color: '#333', fontFamily: FONT, lineHeight: 10, padding: [0, 0, 0, 4] },
    });
  });
  return {
    animation: false,
    backgroundColor: '#FFFFFF',
    textStyle: { fontFamily: FONT },
    grid, xAxis, yAxis, series, legend,
    graphic: buildGraphics(),
  };
}

export default function App() {
  const ref = useRef<HTMLDivElement>(null);
  useEffect(() => {
    document.body.style.margin = '0';
    const el = ref.current as HTMLDivElement;
    const chart = echarts.init(el, null, { renderer: 'svg', width: W, height: H });
    chart.setOption(buildOption() as any);
    return () => chart.dispose();
  }, []);
  return <div ref={ref} style={{ width: W, height: H, background: '#fff' }} />;
}
